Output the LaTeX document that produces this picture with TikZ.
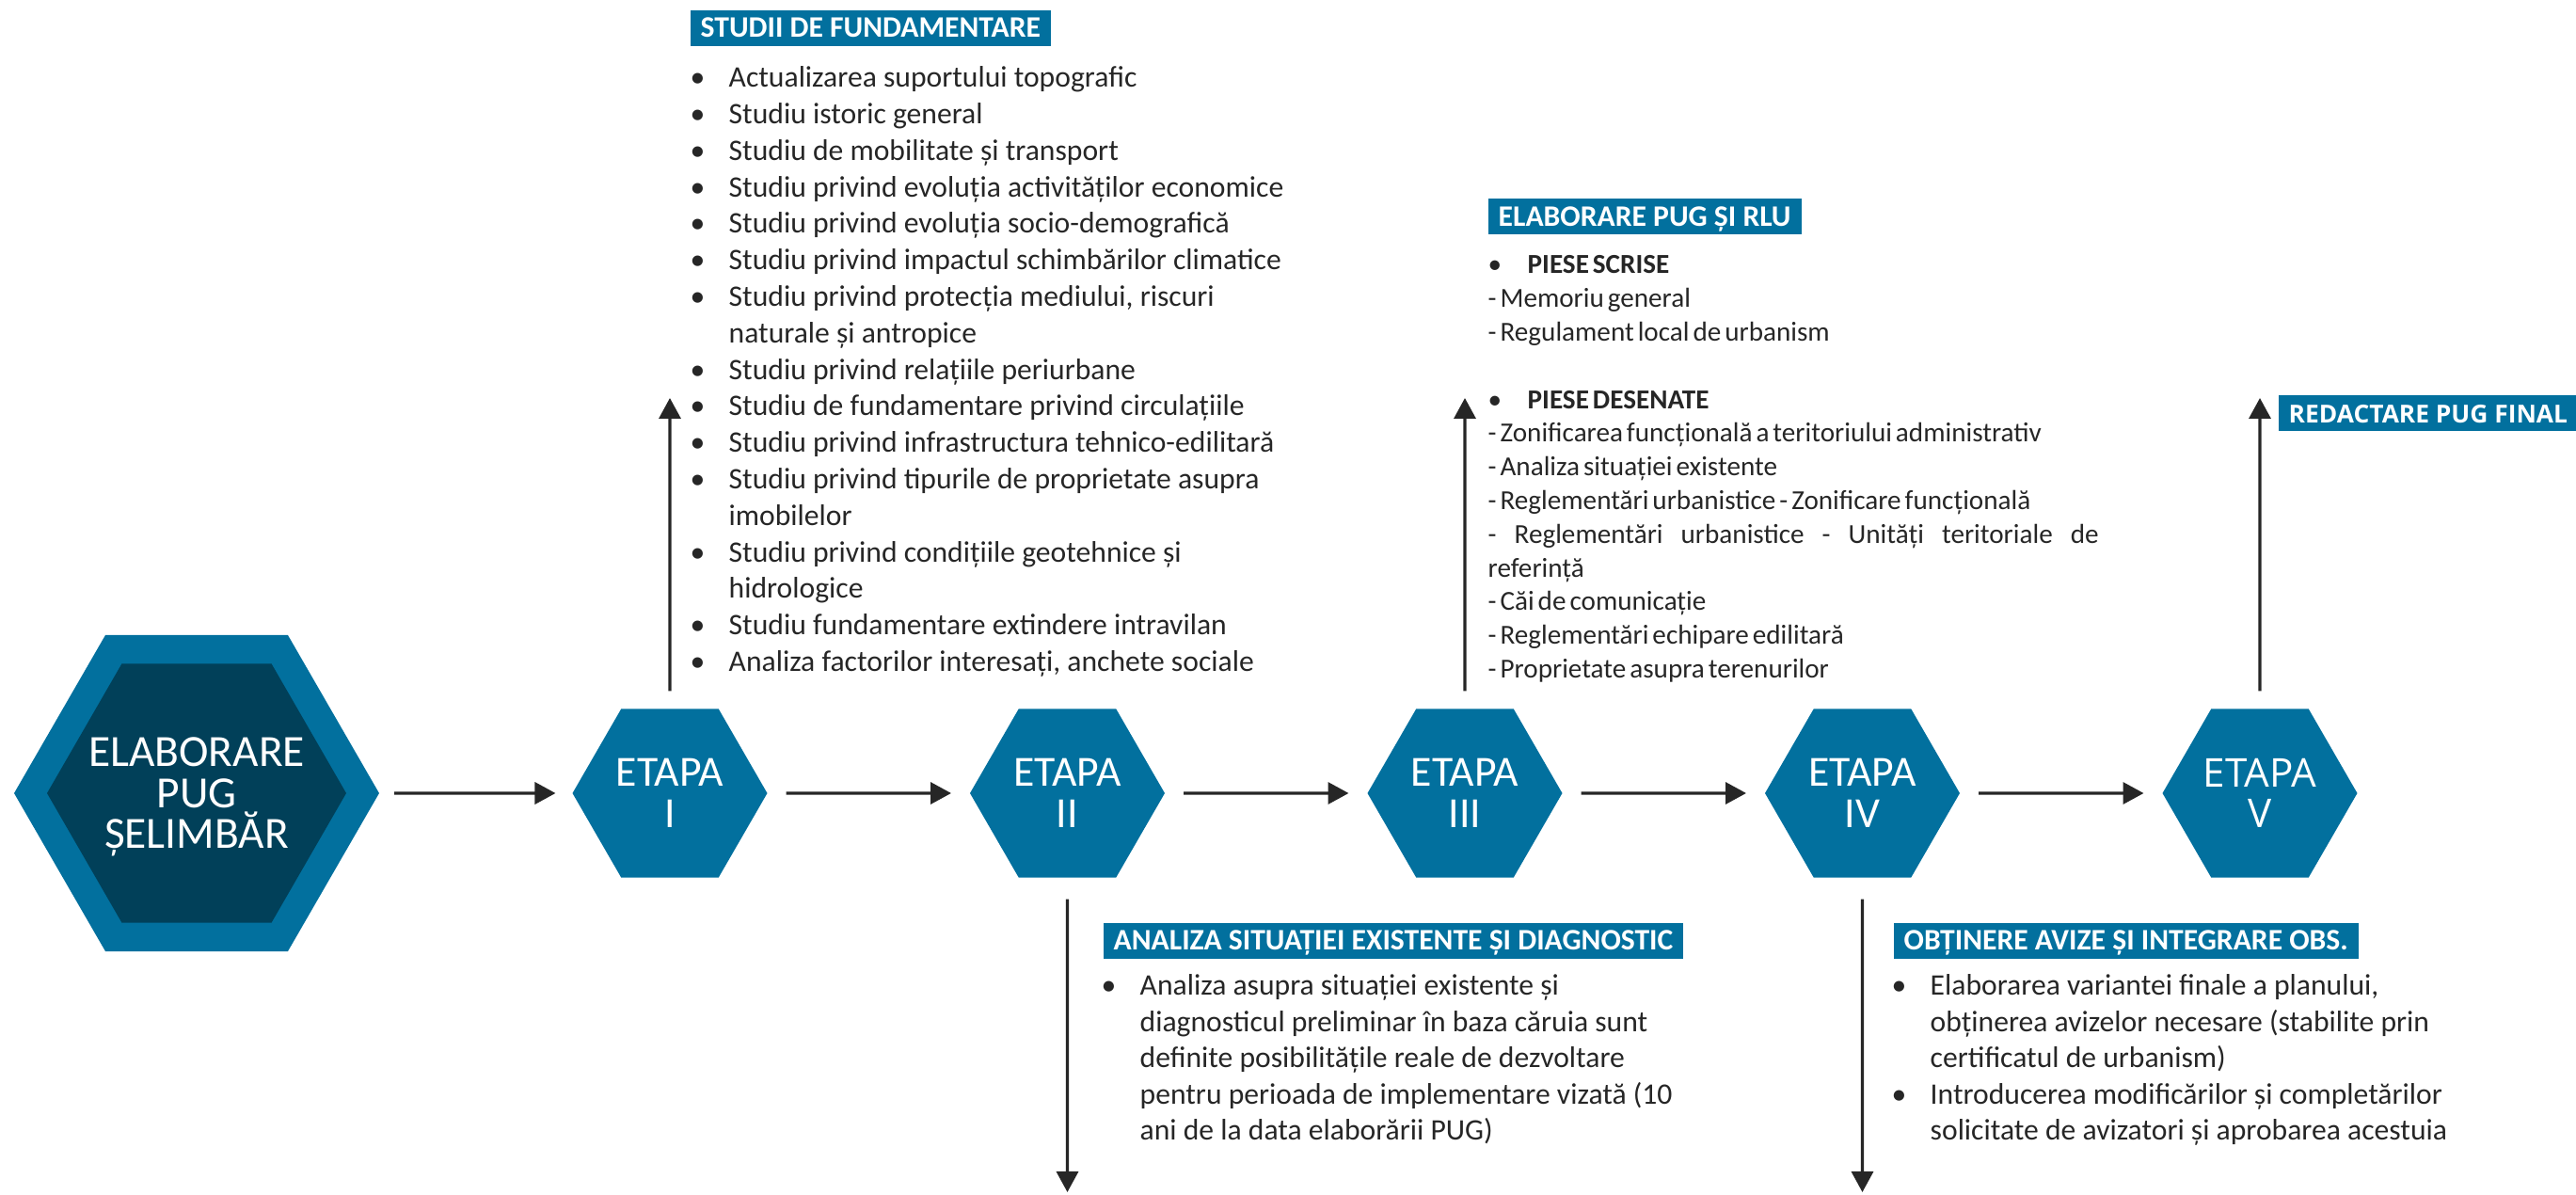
\documentclass[tikz,border=0pt]{standalone}
\usepackage{fontspec}
\setmainfont{Carlito}
\newfontfamily\opensans{Open Sans}
\newfontfamily\rlufont[WordSpace=0.6]{Carlito}
\usetikzlibrary{shapes.geometric,arrows.meta}

\definecolor{hexblue}{RGB}{2,112,158}
\definecolor{hexdark}{RGB}{1,64,89}
\definecolor{ink}{RGB}{38,38,38}

% bullet with hanging indent, and the matching indent for wrapped lines
\newcommand{\bul}{\makebox[0.41cm][l]{•}}
\newcommand{\cnt}{\hspace*{0.41cm}}

\begin{document}
\begin{tikzpicture}[
    hexa/.style={regular polygon, regular polygon sides=6, fill=hexblue, text=white, inner sep=0pt, outer sep=0pt,
                 minimum size=2.07cm, align=center, font=\fontsize{13}{12.4}\selectfont},
    headbox/.style={fill=hexblue, text=white, font=\bfseries\fontsize{9}{10}\selectfont, inner xsep=0.11cm, inner ysep=0pt,
                    text height=0.2cm, text depth=0pt, minimum height=0.38cm, anchor=west},
    itemline/.style={anchor=base west, inner sep=0pt, text=ink, font=\fontsize{9}{11}\selectfont},
    flow/.style={draw=ink, line width=0.95pt, -{Triangle[length=0.22cm,width=0.23cm]}, shorten <=0.2cm, shorten >=0.2cm}]
  \useasboundingbox (0,-4.27) rectangle (27.38,8.43);

  % start hexagon (two rings) and the five stages
  \node[hexa, minimum size=3.88cm] (pugout) at (2.09,0) {};
  \node[hexa, minimum size=3.18cm, fill=hexdark] (pug) at (2.09,0) {};
  \node[align=center, text=white, inner sep=0pt, font=\fontsize{13.5}{12.4}\selectfont] (pugname) at (pug)
    {ELABORARE\\PUG\\\raisebox{0pt}[\height][0pt]{ȘELIMBĂR}};
  \foreach \num [count=\i] in {I,II,III,IV}
    \node[hexa] (e\i) at ({7.12+4.225*(\i-1)},0) {ETAPA\\\num};
  \node[hexa, font=\opensans\fontsize{12}{12.4}\selectfont] (e5) at (24.02,0) {ETAPA\\V};

  \draw[flow, shorten <=0.16cm, shorten >=0.18cm] (pugout) -- (e1);
  \foreach \a/\b in {e1/e2,e2/e3,e3/e4,e4/e5}
    \draw[flow] (\a) -- (\b);

  % branch ends
  \coordinate (up1) at (7.12,4.20);
  \coordinate (up3) at (15.57,4.20);
  \coordinate (up5) at (24.02,4.20);
  \coordinate (dn2) at (11.345,-4.24);
  \coordinate (dn4) at (19.795,-4.24);
  \foreach \e/\c in {e1/up1,e3/up3,e5/up5}
    \draw[flow, shorten <=0.19cm, shorten >=0pt] (\e) -- (\c);
  \foreach \e/\c in {e2/dn2,e4/dn4}
    \draw[flow, shorten <=0.23cm, shorten >=0pt] (\e) -- (\c);

  % stage I
  \node[headbox] (fundhead) at (7.33,8.13) {STUDII DE FUNDAMENTARE};
  \foreach \txt [count=\i from 0] in {
      {\bul Actualizarea suportului topografic},
      {\bul Studiu istoric general},
      {\bul Studiu de mobilitate și transport},
      {\bul Studiu privind evoluția activităților economice},
      {\bul Studiu privind evoluția socio-demografică},
      {\bul Studiu privind impactul schimbărilor climatice},
      {\bul Studiu privind protecția mediului, riscuri},
      {\cnt naturale și antropice},
      {\bul Studiu privind relațiile periurbane},
      {\bul Studiu de fundamentare privind circulațiile},
      {\bul Studiu privind infrastructura tehnico-edilitară},
      {\bul Studiu privind tipurile de proprietate asupra},
      {\cnt imobilelor},
      {\bul Studiu privind condițiile geotehnice și},
      {\cnt hidrologice},
      {\bul Studiu fundamentare extindere intravilan},
      {\bul Analiza factorilor interesați, anchete sociale}}
    \node[itemline] (fund\i) at (7.33,{7.503-0.388*\i}) {\txt};

  % stage II
  \node[headbox] (diaghead) at (11.72,-1.57) {ANALIZA SITUAȚIEI EXISTENTE ȘI DIAGNOSTIC};
  \foreach \txt [count=\i from 0] in {
      {\bul Analiza asupra situației existente și},
      {\cnt diagnosticul preliminar în baza căruia sunt},
      {\cnt definite posibilitățile reale de dezvoltare},
      {\cnt pentru perioada de implementare vizată (10},
      {\cnt ani de la data elaborării PUG)}}
    \node[itemline] (diag\i) at (11.70,{-2.15-0.385*\i}) {\txt};

  % stage III
  \node[headbox] (rluhead) at (15.81,6.125) {ELABORARE PUG ȘI RLU};
  \foreach \k/\txt in {
      0/{\makebox[0.42cm][l]{•}\textbf{PIESE SCRISE}},
      1/{- Memoriu general},
      2/{- Regulament local de urbanism},
      4/{\makebox[0.42cm][l]{•}\textbf{PIESE DESENATE}},
      5/{- Zonificarea funcțională a teritoriului administrativ},
      6/{- Analiza situației existente},
      7/{- Reglementări urbanistice - Zonificare funcțională},
      8/{\makebox[6.49cm][s]{- Reglementări urbanistice - Unități teritoriale de}},
      9/{referință},
      10/{- Căi de comunicație},
      11/{- Reglementări echipare edilitară},
      12/{- Proprietate asupra terenurilor}}
    \node[itemline, font=\rlufont\fontsize{8.3}{9.9}\selectfont] (rlu\k) at (15.81,{5.52-0.358*\k}) {\txt};

  % stage IV
  \node[headbox] (avizhead) at (20.12,-1.57) {OBȚINERE AVIZE ȘI INTEGRARE OBS.};
  \foreach \txt [count=\i from 0] in {
      {\bul Elaborarea variantei finale a planului,},
      {\cnt obținerea avizelor necesare (stabilite prin},
      {\cnt certificatul de urbanism)},
      {\bul Introducerea modificărilor și completărilor},
      {\cnt solicitate de avizatori și aprobarea acestuia}}
    \node[itemline] (aviz\i) at (20.10,{-2.15-0.385*\i}) {\txt};

  % stage V
  \node[headbox, font=\opensans\bfseries\fontsize{7.5}{9}\selectfont] (finalhead) at (24.21,4.035) {REDACTARE PUG FINAL};
\end{tikzpicture}
\end{document}
